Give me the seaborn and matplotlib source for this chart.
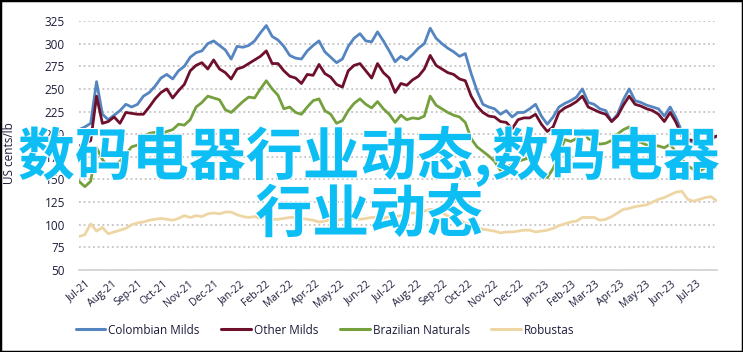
import numpy as np
import pandas as pd
import matplotlib
matplotlib.use("Agg")
import matplotlib.pyplot as plt
import seaborn as sns
from matplotlib.patches import Rectangle
import matplotlib.patheffects as pe

# ---------------- data (weekly readings, US cents/lb) ----------------
start_date = "2021-07-01"
n_weeks = 110

colombian_milds = [205, 208, 212, 258, 222, 216, 221, 226, 233, 230,
                   233, 242, 246, 253, 262, 266, 261, 270, 275, 285,
                   290, 292, 300, 303, 298, 293, 283, 297, 296, 298,
                   303, 312, 320, 308, 304, 297, 287, 284, 283, 292,
                   298, 303, 291, 285, 279, 283, 297, 306, 311, 303,
                   302, 313, 303, 292, 280, 286, 282, 288, 295, 300,
                   317, 306, 300, 295, 291, 286, 289, 267, 248, 233,
                   230, 228, 222, 226, 219, 224, 224, 228, 233, 220,
                   211, 219, 230, 234, 237, 241, 250, 235, 233, 228,
                   226, 214, 222, 238, 250, 237, 235, 232, 230, 228,
                   220, 230, 218, 203, 193, 191, 189, 188, 194, 198]

other_milds = [187, 189, 193, 242, 212, 214, 219, 212, 224, 223,
               222, 222, 230, 239, 246, 250, 240, 248, 255, 270,
               276, 279, 272, 282, 272, 268, 261, 272, 274, 278,
               282, 286, 292, 278, 278, 270, 264, 262, 256, 266,
               265, 277, 267, 263, 255, 252, 270, 276, 278, 270,
               262, 278, 268, 262, 246, 256, 254, 260, 264, 272,
               287, 276, 272, 268, 266, 261, 259, 242, 231, 224,
               220, 219, 214, 213, 206, 216, 218, 218, 222, 211,
               203, 208, 224, 229, 232, 236, 242, 230, 227, 224,
               222, 214, 220, 232, 242, 233, 231, 228, 226, 222,
               214, 224, 213, 198, 194, 193, 192, 191, 196, 198]

brazilian_naturals = [148, 142, 148, 185, 172, 164, 166, 170, 178, 186,
                      188, 197, 201, 202, 200, 203, 205, 211, 210, 216,
                      230, 235, 242, 240, 238, 227, 224, 230, 236, 241,
                      240, 250, 259, 250, 243, 228, 230, 224, 222, 230,
                      237, 239, 226, 222, 212, 215, 226, 234, 239, 233,
                      229, 236, 228, 222, 213, 221, 216, 218, 217, 220,
                      242, 232, 228, 224, 221, 219, 213, 195, 186, 181,
                      176, 170, 160, 163, 167, 170, 172, 174, 166, 158,
                      152, 162, 178, 194, 192, 195, 205, 195, 192, 189,
                      190, 193, 200, 205, 208, 192, 191, 188, 187, 187,
                      185, 189, 180, 172, 165, 161, 159, 163, 164, 164]

robustas = [87, 89, 101, 93, 97, 90, 92, 94, 96, 100,
            102, 103, 105, 106, 107, 106, 105, 107, 110, 108,
            110, 109, 112, 113, 112, 114, 114, 111, 109, 108,
            109, 107, 108, 106, 106, 107, 108, 108, 107, 106,
            105, 103, 104, 106, 105, 106, 106, 107, 106, 107,
            108, 108, 107, 109, 109, 110, 112, 113, 113, 115,
            117, 116, 113, 110, 106, 105, 102, 99, 97, 95,
            94, 93, 91, 92, 92, 93, 94, 94, 92, 93,
            94, 96, 99, 101, 103, 104, 108, 108, 108, 105,
            106, 109, 113, 117, 118, 120, 121, 122, 125, 128,
            130, 133, 136, 137, 128, 126, 128, 130, 131, 126]

series_names = ["Colombian Milds", "Other Milds", "Brazilian Naturals", "Robustas"]
series_colors = ["#5585c0", "#6e0f2c", "#75a03e", "#eed6a4"]

tick_labels = ["Jul-21", "Aug-21", "Sep-21", "Oct-21", "Nov-21", "Dec-21",
               "Jan-22", "Feb-22", "Mar-22", "Apr-22", "May-22", "Jun-22",
               "Jul-22", "Aug-22", "Sep-22", "Oct-22", "Nov-22", "Dec-22",
               "Jan-23", "Feb-23", "Mar-23", "Apr-23", "May-23", "Jun-23",
               "Jul-23"]
y_ticks = [50, 75, 100, 125, 150, 175, 200, 225, 250, 275, 300, 325]
overlay_text = "数码电器行业动态,数码电器\n行业动态"

# ---------------- build table ----------------
dates = pd.date_range(start_date, periods=n_weeks, freq="7D")
frames = []
for name, vals in zip(series_names, [colombian_milds, other_milds,
                                     brazilian_naturals, robustas]):
    frames.append(pd.DataFrame({"date": dates, "value": vals, "series": name}))
df = pd.concat(frames, ignore_index=True)

# ---------------- style ----------------
sns.set_theme(style="white")
plt.rcParams["font.family"] = ["Open Sans", "DejaVu Sans"]
text_color = "#1c1c3a"

fig = plt.figure(figsize=(7.43, 3.52), dpi=100)
ax = fig.add_axes([79 / 743, 1 - 270 / 352, (717 - 79) / 743, (270 - 21) / 352])

sns.lineplot(data=df, x="date", y="value", hue="series",
             hue_order=series_names, palette=series_colors,
             linewidth=2.0, ax=ax, legend=False,
             solid_joinstyle="round", solid_capstyle="round")

ax.set_ylim(50, 325)
ax.set_xlim(dates[0], dates[-1])
ax.set_yticks(y_ticks)
ax.set_yticklabels([str(v) for v in y_ticks], fontsize=8.5, color=text_color)

month_ticks = pd.date_range("2021-07-01", periods=len(tick_labels), freq="MS") + pd.Timedelta(days=8)
ax.set_xticks(month_ticks)
ax.set_xticklabels(tick_labels, rotation=40, ha="right", rotation_mode="anchor",
                   fontsize=7.5, color=text_color)
ax.tick_params(axis="both", length=0)
ax.tick_params(axis="y", pad=10)
ax.tick_params(axis="x", pad=6)

ax.set_xlabel("")
ax.set_ylabel("US cents/lb", fontsize=8.5, color=text_color)
ax.yaxis.set_label_coords(-0.099, 0.47)

ax.set_axisbelow(True)
ax.yaxis.grid(True, linestyle=(0, (1, 1.6)), color="#c4c4c4", linewidth=1.3)
ax.xaxis.grid(False)
for s in ["top", "right", "left"]:
    ax.spines[s].set_visible(False)
ax.spines["bottom"].set_color("#d4d4d4")
ax.spines["bottom"].set_linewidth(1.3)
ax.spines["bottom"].set_zorder(3)

# legend
handles = [plt.Line2D([], [], color=c, linewidth=2.2) for c in series_colors]
fig.legend(handles, series_names, loc="center", ncol=4,
           bbox_to_anchor=(325 / 743, 1 - 330 / 352), frameon=False,
           fontsize=8.5, handlelength=2.5, handletextpad=0.25,
           columnspacing=1.85, labelcolor=text_color)

# overlay text
fig.text(0.497, 1 - 185 / 352, overlay_text, ha="center", va="center",
         ma="center", fontsize=41, color="#0dbef5", fontweight="bold",
         family=["Noto Sans CJK SC", "DejaVu Sans"], linespacing=0.97,
         path_effects=[pe.withStroke(linewidth=1.5, foreground="white")], zorder=10)

# outer border
fig.patches.append(Rectangle((0, 0), 1, 1, transform=fig.transFigure,
                             fill=False, edgecolor="black", linewidth=2.5))

fig.savefig("out.png", dpi=100)
